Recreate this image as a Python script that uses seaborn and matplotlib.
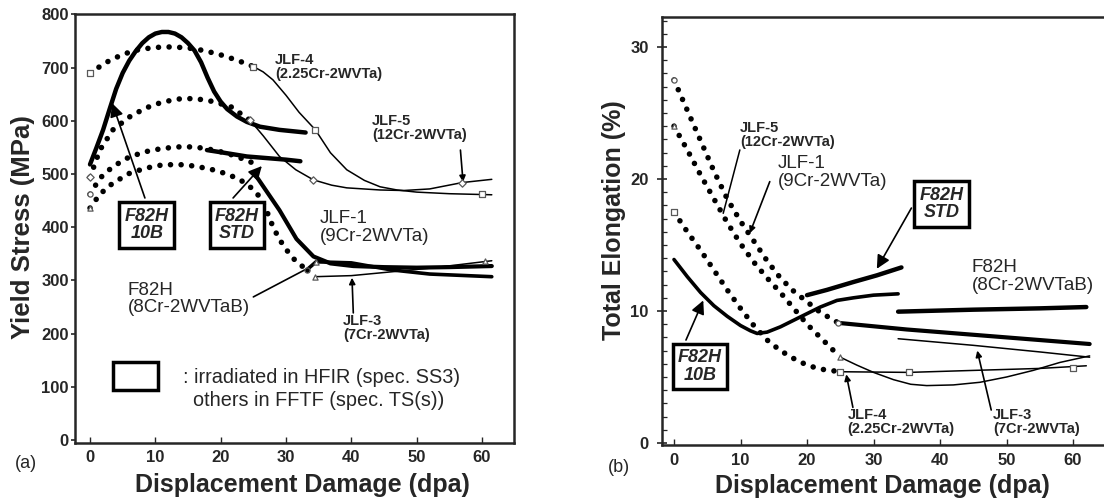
import matplotlib
matplotlib.use("Agg")
import matplotlib.pyplot as plt
import seaborn as sns
from matplotlib.patches import Rectangle
from matplotlib.ticker import MultipleLocator

sns.set_style("ticks")
plt.rcParams["font.family"] = ["Liberation Sans", "DejaVu Sans"]

# ---------------- panel (a): yield stress (MPa) ----------------
a_jlf4_dot_x = [0, 2.5, 5, 7.5, 10, 12.5, 15, 17.5, 20, 22.5, 25]
a_jlf4_dot_y = [690, 710, 725, 734, 738, 739, 737, 732, 724, 714, 702]
a_jlf4_x = [25, 26.5, 28, 30, 32, 34.5, 36.8, 39.3, 42, 44.4, 47, 50, 55, 61.5]
a_jlf4_y = [702, 692, 677, 648, 616, 583, 540, 508, 488, 476, 470, 466, 463, 461]

a_jlf5_dot_x = [0, 1.5, 3.5, 6, 8.5, 11, 13.5, 16, 18.5, 21.5, 24.5]
a_jlf5_dot_y = [494, 545, 583, 607, 624, 635, 641, 642, 637, 627, 601]
a_jlf5_x = [24.5, 26.5, 29, 31.5, 34.2, 37, 39.3, 44.4, 48, 52, 57, 61.5]
a_jlf5_y = [601, 572, 533, 508, 489, 479, 474, 470, 469, 472, 484, 490]

a_jlf1_dot_x = [0, 1.5, 3.5, 6, 8.5, 11, 13.5, 16, 18.5, 21, 23.5, 25.5]
a_jlf1_dot_y = [462, 492, 514, 532, 542, 548, 551, 551, 546, 539, 528, 518]
a_jlf1_x = [25.5, 27, 29, 31.6, 34.2, 36.8, 40.3, 45, 50, 55, 61.5]
a_jlf1_y = [495, 468, 432, 378, 345, 332, 327, 325, 324, 325, 327]

a_f82h_dot_x = [0, 1.5, 3.5, 6, 8.5, 11, 13.5, 16, 18.5, 21, 23, 24.5, 26, 27, 28, 29, 30.1, 31.5, 33.2]
a_f82h_dot_y = [436, 462, 483, 501, 511, 517, 518, 515, 509, 500, 489, 476, 457, 432, 401, 377, 357, 336, 320]
a_f82h_x = [33.2, 34.6, 40, 46, 52, 61.5]
a_f82h_y = [320, 335, 333, 320, 312, 307]

a_jlf3_x = [34.4, 40, 46, 52, 61.5]
a_jlf3_y = [307, 309, 316, 323, 337]

a_10b_x = [0, 1, 2, 3, 4, 5, 6, 7, 8, 9, 10, 11, 12, 13, 14, 15, 16, 17, 18, 19, 20, 21, 22.5, 24, 26, 29, 33]
a_10b_y = [518, 550, 583, 622, 660, 690, 713, 731, 746, 757, 764, 767, 767, 764, 757, 746, 732, 710, 681, 655, 636, 622, 608, 598, 589, 583, 578]

a_std_x = [17.9, 20, 22, 24, 26, 28, 30, 32.2]
a_std_y = [545, 541, 537, 533, 531, 529, 527, 524]

a_sq_x, a_sq_y = [0, 25, 34.5, 60], [690, 702, 583, 462]
a_dia_x, a_dia_y = [0, 24.5, 34.2, 57], [494, 601, 489, 484]
a_circ_x, a_circ_y = [0], [462]
a_tri_x, a_tri_y = [0, 34.4, 34.6, 60.5], [436, 307, 335, 337]
a_dot_x, a_dot_y = [33.2], [320]

# ---------------- panel (b): total elongation (%) ----------------
b_jlf1_dot_x = [0, 2, 4, 6, 8, 10, 12, 14, 16, 18, 20, 22, 24.7]
b_jlf1_dot_y = [27.5, 25.2, 22.9, 20.6, 18.5, 16.8, 15.3, 13.8, 12.5, 11.5, 10.7, 9.9, 9.1]
b_jlf1_x = [24.7, 35, 45, 55, 62.5]
b_jlf1_y = [9.1, 8.6, 8.2, 7.8, 7.5]

b_jlf5_dot_x = [0, 2, 4, 6, 8, 10, 12, 14, 16, 18, 20, 22, 25]
b_jlf5_dot_y = [24.0, 22.2, 20.3, 18.5, 16.7, 15.1, 13.7, 12.5, 11.4, 10.2, 9.0, 8.0, 6.5]
b_jlf5_x = [25, 27.5, 30, 33, 35.6, 38, 42, 46, 50, 54, 58, 62.5]
b_jlf5_y = [6.5, 5.9, 5.35, 4.8, 4.45, 4.35, 4.4, 4.6, 5.0, 5.5, 6.1, 6.6]

b_jlf4_dot_x = [0, 2, 4, 6, 8, 10, 12, 14, 16, 18, 20, 22, 25]
b_jlf4_dot_y = [17.5, 16.0, 14.6, 13.1, 11.6, 10.2, 8.9, 7.8, 7.0, 6.4, 5.9, 5.6, 5.4]
b_jlf4_x = [25, 35.3, 45, 55, 62]
b_jlf4_y = [5.4, 5.35, 5.5, 5.65, 5.85]

b_jlf3_x = [33.7, 45, 55, 62.5]
b_jlf3_y = [7.9, 7.4, 6.9, 6.5]

b_10b_x = [0, 2, 4, 6, 8, 10, 11.5, 12.5, 14, 16, 18, 20, 22, 24.5, 27, 30, 33.7]
b_10b_y = [13.9, 12.6, 11.4, 10.4, 9.6, 8.9, 8.5, 8.3, 8.4, 8.8, 9.3, 9.8, 10.3, 10.8, 11.0, 11.2, 11.3]

b_std_x = [20, 23, 27, 30.5, 34.2]
b_std_y = [11.2, 11.6, 12.2, 12.7, 13.3]

b_f82h_x = [33.7, 45, 55, 62]
b_f82h_y = [9.95, 10.1, 10.2, 10.3]

b_circ_x, b_circ_y = [0, 24.7], [27.5, 9.1]
b_tri_x, b_tri_y = [0, 25], [24.0, 6.5]
b_sq_x, b_sq_y = [0, 25, 35.3, 60], [17.5, 5.4, 5.35, 5.7]

DOT = (0, (0.01, 1.9))


def draw_line(ax, xs, ys, lw, dotted=False):
    kw = dict(color="black", linewidth=lw, sort=False, estimator=None, ax=ax, legend=False)
    if dotted:
        kw.update(linestyle=DOT, dash_capstyle="round")
    else:
        kw.update(solid_capstyle="round", solid_joinstyle="round")
    sns.lineplot(x=xs, y=ys, **kw)


def draw_marks(ax, xs, ys, marker, filled=False):
    sns.scatterplot(x=xs, y=ys, marker=marker, s=14, ax=ax, zorder=5, legend=False,
                    color="black" if filled else "white", edgecolor="0.35", linewidth=0.9)


def boxed(ax, x, y, text):
    ax.text(x, y, text, ha="center", va="center", fontsize=13, fontweight="bold", fontstyle="italic",
            linespacing=1.05,
            bbox=dict(boxstyle="square,pad=0.3", facecolor="white", edgecolor="black", linewidth=2.5))


def arrow(ax, start, tip, big=False):
    ax.annotate("", xy=tip, xytext=start,
                arrowprops=dict(arrowstyle="-|>", color="black", lw=1.2, shrinkA=0, shrinkB=0,
                                mutation_scale=20 if big else 9))


def label(ax, x, y, text, small=True):
    if small:
        ax.text(x, y, text, ha="left", va="center", fontsize=10.5, fontweight="bold", linespacing=1.0)
    else:
        ax.text(x, y, text, ha="left", va="center", fontsize=13.5, linespacing=1.05)


def style_axes(ax):
    for sp in ax.spines.values():
        sp.set_visible(True)
        sp.set_linewidth(1.8)
    for lab in ax.get_xticklabels() + ax.get_yticklabels():
        lab.set_fontweight("bold")
        lab.set_fontsize(12)


fig = plt.figure(figsize=(11.04, 5.0), dpi=100)
ax_a = fig.add_axes([75 / 1104, 57 / 500, 439 / 1104, 429 / 500])
ax_b = fig.add_axes([661.7 / 1104, 55 / 500, 446.3 / 1104, 428 / 500])

# ---- panel (a)
draw_line(ax_a, a_jlf4_dot_x, a_jlf4_dot_y, 4.0, dotted=True)
draw_line(ax_a, a_jlf5_dot_x, a_jlf5_dot_y, 4.0, dotted=True)
draw_line(ax_a, a_jlf1_dot_x, a_jlf1_dot_y, 4.0, dotted=True)
draw_line(ax_a, a_f82h_dot_x, a_f82h_dot_y, 4.0, dotted=True)
draw_line(ax_a, a_jlf4_x, a_jlf4_y, 1.1)
draw_line(ax_a, a_jlf5_x, a_jlf5_y, 1.1)
draw_line(ax_a, a_jlf1_x, a_jlf1_y, 3.0)
draw_line(ax_a, a_f82h_x, a_f82h_y, 2.6)
draw_line(ax_a, a_jlf3_x, a_jlf3_y, 1.1)
draw_line(ax_a, a_10b_x, a_10b_y, 3.2)
draw_line(ax_a, a_std_x, a_std_y, 3.2)
draw_marks(ax_a, a_sq_x, a_sq_y, "s")
draw_marks(ax_a, a_dia_x, a_dia_y, "D")
draw_marks(ax_a, a_circ_x, a_circ_y, "o")
draw_marks(ax_a, a_tri_x, a_tri_y, "^")
draw_marks(ax_a, a_dot_x, a_dot_y, "o", filled=True)

ax_a.set_xlim(-2.3, 64.9)
ax_a.set_ylim(-5.6, 800.8)
ax_a.set_xticks(range(0, 61, 10))
ax_a.set_yticks(range(0, 801, 100))
ax_a.tick_params(axis="y", direction="out", length=3, width=1.2, pad=1.5)
ax_a.tick_params(axis="x", direction="in", length=4, width=1.0, pad=5)
style_axes(ax_a)

label(ax_a, 28.3, 701, "JLF-4\n(2.25Cr-2WVTa)")
label(ax_a, 43.2, 587, "JLF-5\n(12Cr-2WVTa)")
arrow(ax_a, (56.7, 545), (57.1, 485))
label(ax_a, 35.2, 399, "JLF-1\n(9Cr-2WVTa)", small=False)
label(ax_a, 5.8, 265, "F82H\n(8Cr-2WVTaB)", small=False)
ax_a.plot([25, 32.9], [269, 320], color="black", lw=1.2)
label(ax_a, 38.7, 211, "JLF-3\n(7Cr-2WVTa)")
arrow(ax_a, (40.3, 239), (40.1, 305))
boxed(ax_a, 8.7, 404, "F82H\n10B")
arrow(ax_a, (8.4, 455), (3.4, 633), big=True)
boxed(ax_a, 22.5, 404, "F82H\nSTD")
arrow(ax_a, (21.9, 455), (26.3, 515), big=True)
ax_a.add_patch(Rectangle((3.5, 94), 6.9, 52.6, fill=False, edgecolor="black", linewidth=2.5))
ax_a.text(14.2, 118, ": irradiated in HFIR (spec. SS3)", ha="left", va="center", fontsize=14.3)
ax_a.text(15.8, 75, "others in FFTF (spec. TS(s))", ha="left", va="center", fontsize=14.3)

ax_a.set_xlabel("Displacement Damage (dpa)", fontsize=18, fontweight="bold", va="center")
ax_a.set_ylabel("Yield Stress (MPa)", fontsize=18.5, fontweight="bold", va="center", ha="center")
ax_a.xaxis.set_label_coords(0.519, -0.097)
ax_a.yaxis.set_label_coords(-0.118, 0.503)

# ---- panel (b)
draw_line(ax_b, b_jlf1_dot_x, b_jlf1_dot_y, 4.0, dotted=True)
draw_line(ax_b, b_jlf5_dot_x, b_jlf5_dot_y, 4.0, dotted=True)
draw_line(ax_b, b_jlf4_dot_x, b_jlf4_dot_y, 4.0, dotted=True)
draw_line(ax_b, b_jlf1_x, b_jlf1_y, 3.0)
draw_line(ax_b, b_jlf5_x, b_jlf5_y, 1.1)
draw_line(ax_b, b_jlf4_x, b_jlf4_y, 1.1)
draw_line(ax_b, b_jlf3_x, b_jlf3_y, 1.1)
draw_line(ax_b, b_10b_x, b_10b_y, 2.6)
draw_line(ax_b, b_std_x, b_std_y, 3.2)
draw_line(ax_b, b_f82h_x, b_f82h_y, 3.2)
draw_marks(ax_b, b_circ_x, b_circ_y, "o")
draw_marks(ax_b, b_tri_x, b_tri_y, "^")
draw_marks(ax_b, b_sq_x, b_sq_y, "s")

ax_b.set_xlim(-1.85, 65.26)
ax_b.set_ylim(-0.15, 32.27)
ax_b.set_xticks(range(0, 61, 10))
ax_b.set_yticks([0, 10, 20, 30])
ax_b.yaxis.set_minor_locator(MultipleLocator(1))
ax_b.tick_params(axis="y", which="major", direction="inout", length=7, width=1.2, pad=6)
ax_b.tick_params(axis="y", which="minor", direction="in", length=3.5, width=0.9)
ax_b.tick_params(axis="x", direction="in", length=4, width=1.0, pad=6)
style_axes(ax_b)

label(ax_b, 9.9, 23.3, "JLF-5\n(12Cr-2WVTa)")
ax_b.plot([9.9, 7.4], [22.2, 17.4], color="black", lw=1.1)
label(ax_b, 15.6, 20.5, "JLF-1\n(9Cr-2WVTa)", small=False)
arrow(ax_b, (14.4, 19.8), (11.4, 15.9))
boxed(ax_b, 40.2, 18.1, "F82H\nSTD")
arrow(ax_b, (35.7, 17.8), (30.5, 13.2), big=True)
label(ax_b, 44.8, 12.6, "F82H\n(8Cr-2WVTaB)", small=False)
boxed(ax_b, 3.9, 5.8, "F82H\n10B")
arrow(ax_b, (1.8, 7.8), (4.4, 10.8), big=True)
label(ax_b, 26.1, 1.63, "JLF-4\n(2.25Cr-2WVTa)")
arrow(ax_b, (26.9, 2.7), (25.9, 5.2))
label(ax_b, 48.0, 1.63, "JLF-3\n(7Cr-2WVTa)")
arrow(ax_b, (47.7, 2.5), (45.6, 7.0))

ax_b.set_xlabel("Displacement Damage (dpa)", fontsize=18, fontweight="bold", va="center")
ax_b.set_ylabel("Total Elongation (%)", fontsize=18, fontweight="bold", va="center", ha="center")
ax_b.xaxis.set_label_coords(0.494, -0.095)
ax_b.yaxis.set_label_coords(-0.107, 0.526)

fig.text(26 / 1104, 1 - 463 / 500, "(a)", ha="center", va="center", fontsize=13)
fig.text(619 / 1104, 1 - 468 / 500, "(b)", ha="center", va="center", fontsize=13)

fig.savefig("out.png", dpi=100)
